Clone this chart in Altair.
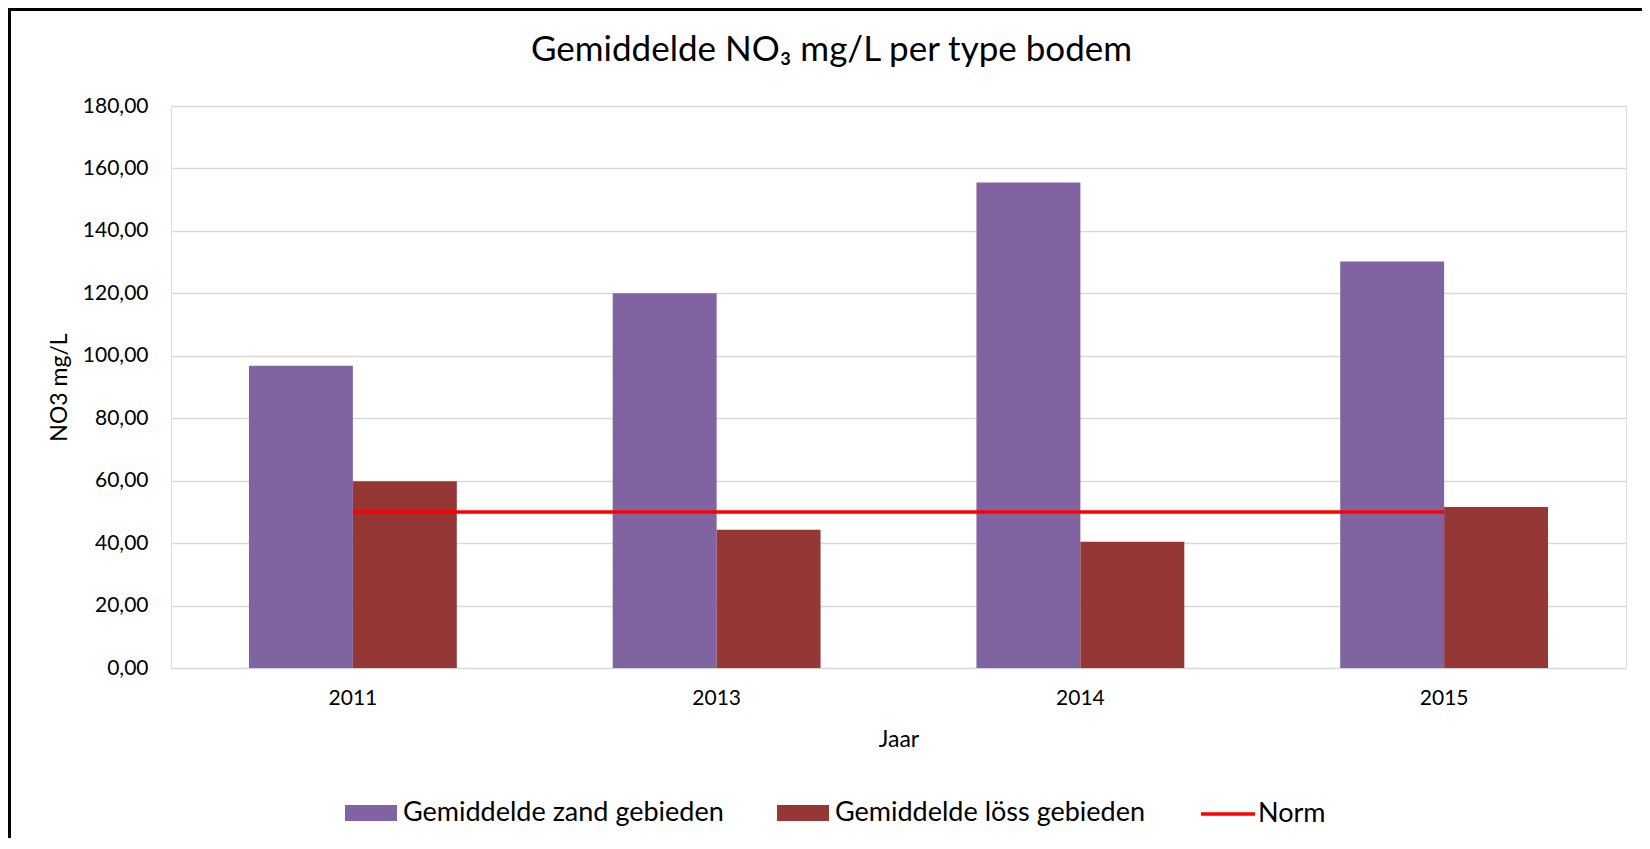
import altair as alt
import pandas as pd

# ---- data ----
years = ["2011", "2013", "2014", "2015"]
zand = [96.8, 120.0, 155.5, 130.2]
loss = [59.8, 44.3, 40.4, 51.6]
norm_value = 50.0
series_names = ["Gemiddelde zand gebieden", "Gemiddelde löss gebieden"]
norm_name = "Norm"
y_ticks = [0, 20, 40, 60, 80, 100, 120, 140, 160, 180]

bar_colors = ["#8064A2", "#953735"]
norm_color = "#FF0000"

FONT = "Lato"
W, H = 1455, 562

rows = []
for i, yr in enumerate(years):
    rows.append({"Jaar": yr, "serie": series_names[0], "waarde": zand[i]})
    rows.append({"Jaar": yr, "serie": series_names[1], "waarde": loss[i]})
bars_df = pd.DataFrame(rows)
norm_df = pd.DataFrame({"Jaar": years, "norm": [norm_value] * len(years), "lijn": [norm_name] * len(years)})

x_scale = alt.Scale(domain=years, paddingInner=0.4286, paddingOuter=0.2143)
y_scale = alt.Scale(domain=[0, 180], nice=False)

bars = alt.Chart(bars_df).mark_bar().encode(
    x=alt.X("Jaar:N", scale=x_scale, sort=years,
            axis=alt.Axis(title="Jaar", labelAngle=0, ticks=False, tickSize=0, domain=False,
                          labelPadding=19, titlePadding=20, labelFontSize=21, titleFontSize=23,
                          labelFont=FONT, titleFont=FONT, labelColor="#000000", titleColor="#000000",
                          titleFontWeight="normal", grid=False)),
    xOffset=alt.XOffset("serie:N", sort=series_names, scale=alt.Scale(domain=series_names, paddingInner=0, paddingOuter=0)),
    y=alt.Y("waarde:Q", scale=y_scale,
            axis=alt.Axis(title="NO3 mg/L", values=y_ticks, format=".2f", ticks=False, tickSize=0,
                          domain=False, labelPadding=23, titlePadding=11, labelFontSize=21,
                          titleFontSize=23, labelFont=FONT, titleFont=FONT, labelColor="#000000",
                          titleColor="#000000", titleFontWeight="normal", grid=True,
                          gridColor="#D9D9D9", gridWidth=1.5,
                          labelExpr="replace(format(datum.value, '.2f'), '.', ',')")),
    fill=alt.Fill("serie:N", sort=series_names,
                  scale=alt.Scale(domain=series_names, range=bar_colors),
                  legend=alt.Legend(title=None, orient="none", direction="horizontal",
                                    legendX=174, legendY=681, symbolType="M-1,-0.31H1V0.31H-1Z",
                                    symbolSize=2704, symbolStrokeWidth=0, labelOffset=6,
                                    columnPadding=53, labelFontSize=27, labelFont=FONT,
                                    labelColor="#000000", labelLimit=0, padding=0)),
)

norm = alt.Chart(norm_df).mark_line(strokeWidth=3.5).encode(
    x=alt.X("Jaar:N", scale=x_scale, sort=years),
    y=alt.Y("norm:Q", scale=y_scale),
    stroke=alt.Stroke("lijn:N", scale=alt.Scale(domain=[norm_name], range=[norm_color]),
                      legend=alt.Legend(title=None, orient="none", direction="horizontal",
                                        legendX=1028, legendY=679, symbolType="stroke",
                                        symbolSize=2916, symbolStrokeWidth=3.5, labelOffset=1,
                                        labelFontSize=27, labelFont=FONT, labelColor="#000000",
                                        labelLimit=0, padding=0)),
)

frame = alt.Chart(pd.DataFrame({"f": [0]})).mark_rect(fill=None, stroke="#000000", strokeWidth=3).encode(
    x=alt.value(-161.5), x2=alt.value(W + 300), y=alt.value(-96.5), y2=alt.value(H + 400)
)

chart = alt.layer(bars, norm, frame).properties(
    width=W, height=H,
    title=alt.TitleParams("Gemiddelde NO₃ mg/L per type bodem", font=FONT, fontSize=35,
                          fontWeight="normal", color="#000000", anchor="middle", dx=-67,
                          offset=14, dy=74),
    autosize=alt.AutoSizeParams(type="none"),
    padding={"left": 163, "top": 98, "right": 16, "bottom": 170},
).configure_view(stroke=None).configure(background="#FFFFFF")

chart.save("out.html", embed_options={"renderer": "svg", "actions": False})
